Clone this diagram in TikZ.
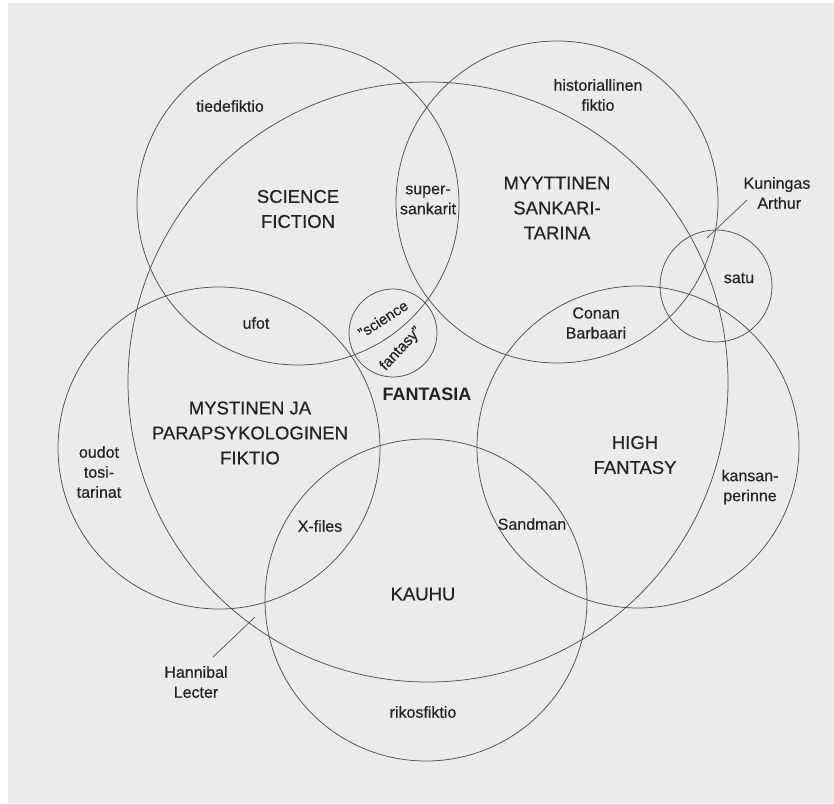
\documentclass[tikz,border=0pt]{standalone}
\usepackage{fontspec}
\setmainfont{Liberation Sans}
\newfontfamily\medfont[FakeBold=0.4]{Liberation Sans}
\definecolor{paper}{RGB}{236,235,235}
\definecolor{ink}{RGB}{80,80,80}
\definecolor{txt}{RGB}{35,35,35}
\tikzset{
  ring/.style={draw=ink, line width=0.75pt},
  small/.style={text=txt, align=center, inner sep=0pt, font=\medfont\fontsize{16}{20}\selectfont},
  big/.style={text=txt, align=center, inner sep=0pt, font=\medfont\fontsize{18.5}{25}\selectfont},
  leader/.style={draw=ink, line width=0.7pt}
}
\begin{document}
\begin{tikzpicture}[x=1pt,y=-1pt]
\useasboundingbox (0,0) rectangle (834,803);
\fill[white] (0,0) rectangle (834,803);
\fill[paper] (8,3) rectangle (834,803);
% circles
\draw[ring] (298,204) circle[radius=161pt];
\draw[ring] (557,202) circle[radius=161pt];
\draw[ring] (428,382) circle[radius=300pt];
\draw[ring] (219,448) circle[radius=161pt];
\draw[ring] (638,447) circle[radius=161pt];
\draw[ring] (426,600) circle[radius=161pt];
\draw[ring] (716,286) circle[radius=56pt];
\draw[ring] (393,333) circle[radius=44pt];
% labels
\node[small] (tiede) at (230,106) {tiedefiktio};
\node[big] (sf) at (298,209) {SCIENCE\\FICTION};
\node[small] (super) at (428,200) {super-\\sankarit};
\node[small] (hist) at (598,95) {historiallinen\\fiktio};
\node[big] (myyt) at (557,208) {MYYTTINEN\\SANKARI-\\TARINA};
\node[small] (arthur) at (777,193) {Kuningas\\\ Arthur};
\node[small] (satu) at (739,278) {satu};
\node[small] (conan) at (596,323) {Conan\\Barbaari};
\node[small] (ufot) at (256,323) {ufot};
\node[small, font=\medfont\fontsize{15}{18}\selectfont, rotate=33] (science) at (383,319) {\char"201D science};
\node[small, font=\medfont\fontsize{15}{18}\selectfont, rotate=47] (fantasy) at (401,349) {fantasy\char"201D};
\node[big, font=\bfseries\fontsize{18}{22}\selectfont] (fantasia) at (427,394) {FANTASIA};
\node[big] (myst) at (250,433) {MYSTINEN JA\\PARAPSYKOLOGINEN\\FIKTIO};
\node[small] (oudot) at (99,472) {oudot\\tosi-\\tarinat};
\node[small] (xfiles) at (320,526) {X-files};
\node[big] (high) at (635,455) {HIGH\\FANTASY};
\node[small] (kansan) at (750,487) {kansan-\\perinne};
\node[small] (sandman) at (532,524) {Sandman};
\node[big] (kauhu) at (423,594) {KAUHU};
\node[small] (hannibal) at (196,682) {Hannibal\\Lecter};
\node[small] (riko) at (423,712) {rikosfiktio};
% leaders
\coordinate (a1) at (747,200);
\coordinate (a2) at (707,238);
\draw[leader] (a1) -- (a2);
\coordinate (h1) at (213,657);
\coordinate (h2) at (255,617);
\draw[leader] (h1) -- (h2);
\end{tikzpicture}
\end{document}
